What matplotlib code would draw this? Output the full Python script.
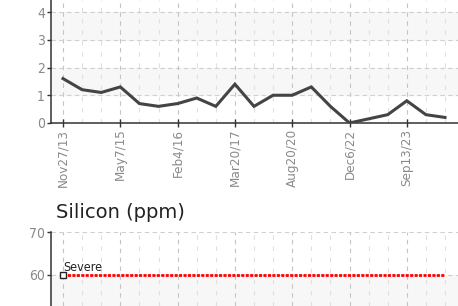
import matplotlib
matplotlib.use("Agg")
import matplotlib.pyplot as plt
from matplotlib.ticker import MultipleLocator, FixedLocator

# top chart (cropped) - readings per sample
values = [1.6, 1.2, 1.1, 1.3, 0.7, 0.6, 0.7, 0.9, 0.6, 1.4, 0.6,
          1.0, 1.0, 1.3, 0.6, 0.0, 0.15, 0.3, 0.8, 0.3, 0.2]
date_labels = ["Nov27/13", "May7/15", "Feb4/16", "Mar20/17",
               "Aug20/20", "Dec6/22", "Sep13/23"]

# silicon chart (only top part visible)
severe_limit = 60
severe_label = "Severe"

narrow = dict(family="DejaVu Sans", stretch="condensed")
tick_color = "#8a8a8a"
W, H = 458, 306
step = 19.1
x0 = 63

fig = plt.figure(figsize=(W / 100, H / 100), dpi=100)

xs = list(range(len(values)))
xmin = -(x0 - 51) / step
xmax = (W - x0) / step


def style_axes(ax):
    for s in ["top", "right"]:
        ax.spines[s].set_visible(False)
    ax.spines["left"].set_color("#333333")
    ax.spines["left"].set_linewidth(1.1)
    ax.spines["bottom"].set_color("#333333")
    ax.spines["bottom"].set_linewidth(1.1)
    ax.xaxis.set_major_locator(MultipleLocator(3))
    ax.xaxis.set_minor_locator(MultipleLocator(1))
    ax.grid(axis="x", which="major", color="#c4c4c4", linestyle=(0, (4, 4)), linewidth=0.8)
    ax.grid(axis="x", which="minor", color="#e0e0e0", linestyle=(0, (4, 6)), linewidth=0.8)
    ax.grid(axis="y", which="major", color="#d0d0d0", linestyle=(0, (4, 3)), linewidth=0.8)
    ax.set_axisbelow(True)
    ax.tick_params(axis="y", which="major", direction="out", length=3, width=1,
                   color="#333333", labelcolor=tick_color, pad=1.5)
    ax.tick_params(axis="x", which="minor", length=0)
    for t in ax.get_yticklabels():
        t.set_fontproperties(dict(narrow, size=10))


# top axes
ax1 = fig.add_axes([51 / W, 1 - 123 / H, 1 - 51 / W, 123 / H])
ax1.set_xlim(xmin, xmax)
ax1.set_ylim(0, 123 / 27.75)
ax1.axhspan(1, 2, color="#f7f7f7", zorder=0)
ax1.axhspan(3, 4, color="#f7f7f7", zorder=0)
ax1.plot(xs, values, color="#444444", linewidth=2.2, solid_joinstyle="miter", zorder=3)
ax1.yaxis.set_major_locator(FixedLocator([0, 1, 2, 3, 4]))
style_axes(ax1)
ax1.set_xticks(xs[::3])
ax1.set_xticklabels(date_labels, rotation=90, fontproperties=dict(narrow, size=9.6),
                    color=tick_color)
ax1.tick_params(axis="x", which="major", direction="inout", length=6, width=1,
                color="#333333", pad=1)

# bottom axes (Silicon)
ax2 = fig.add_axes([51 / W, 0, 1 - 51 / W, 1 - 232 / H])
ax2.set_xlim(xmin, xmax)
ax2.set_ylim(70 - (H - 232) / 4.3, 70)
ax2.axhspan(50, 60, color="#f7f7f7", zorder=0)
ax2.yaxis.set_major_locator(FixedLocator([60, 70]))
style_axes(ax2)
ax2.spines["bottom"].set_visible(False)
ax2.tick_params(axis="x", which="major", length=0, labelbottom=False)
ax2.plot(xs, [severe_limit] * len(xs), color="#ff0000", linewidth=2,
         linestyle=(0, (1.1, 0.5)), dash_capstyle="butt", zorder=3)
ax2.plot([xs[0]], [severe_limit], marker="s", markersize=4, markerfacecolor="white",
         markeredgecolor="#222222", markeredgewidth=1, zorder=4)
ax2.text(xs[0], severe_limit + 0.9, severe_label, fontproperties=dict(narrow, size=9),
         color="#222222", ha="left", va="baseline")

fig.text(56 / W, 1 - 218 / H, "Silicon (ppm)", family="DejaVu Sans",
         fontsize=14, color="#222222", ha="left", va="baseline")

fig.savefig("out.png", dpi=100)
